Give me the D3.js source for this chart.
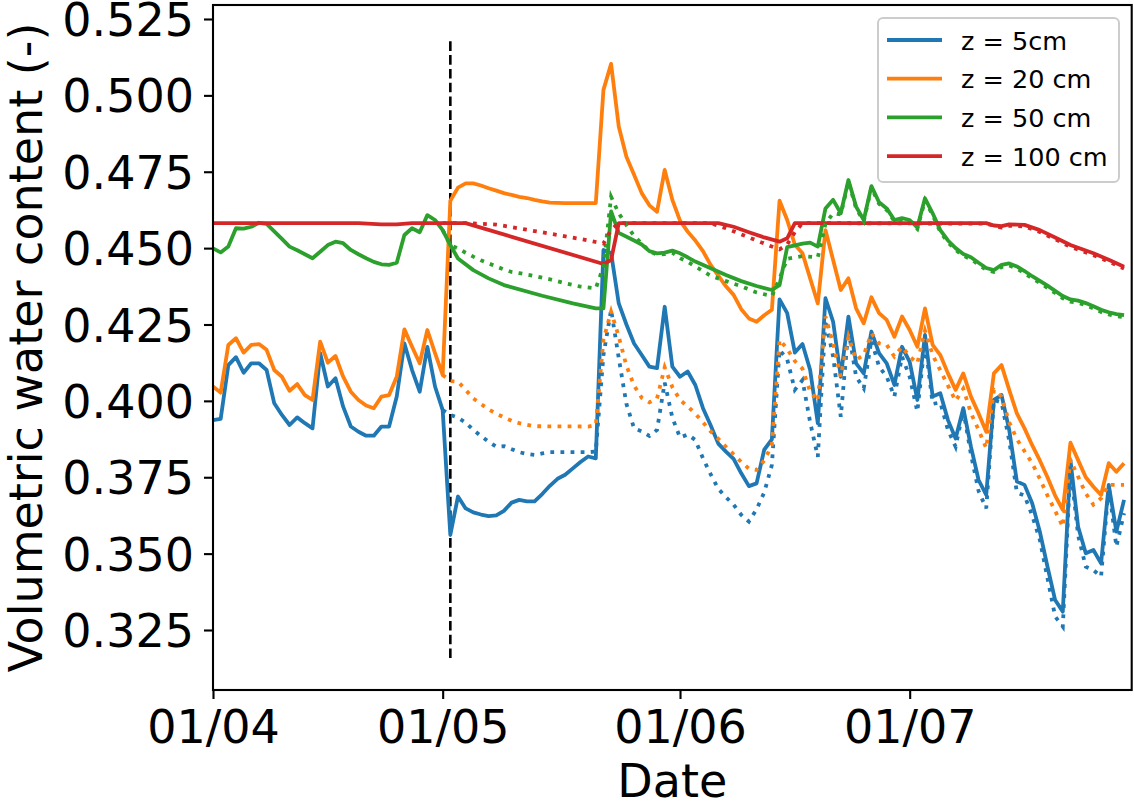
<!DOCTYPE html>
<html>
<head>
<meta charset="utf-8">
<script src="https://cdn.jsdelivr.net/npm/d3@7"></script>
<style>
	body { margin: 0; background: #fff; }
	svg { font-family: 'DejaVu Sans', sans-serif; }
</style>
</head>
<body>
<svg id="chart" width="1134" height="805"></svg>
<script>
// day offsets are counted from 1 April
const START = new Date(2021, 3, 1);
const END_DAY = 120;
const EVENT_DAY = 31;
const EVENT_RANGE = [0.3158, 0.5191];

const labels = ['z = 5cm', 'z = 20 cm', 'z = 50 cm', 'z = 100 cm'];
const colors = ['#1f77b4', '#ff7f0e', '#2ca02c', '#d62728'];
const yTicks = [0.325, 0.35, 0.375, 0.4, 0.425, 0.45, 0.475, 0.5, 0.525];

// observed (solid), [day, value]
const obs5 = [[0,.3937],[1,.3941],[2,.4117],[3,.4143],[4,.4092],[5,.4123],[6,.4123],[7,.4101],[8,.3992],[9,.3954],[10,.3921],[11,.3946],[12,.3927],[13,.3910],[14,.4156],[15,.4047],[16,.4074],[17,.3981],[18,.3916],[19,.3899],[20,.3886],[21,.3886],[22,.3916],[23,.3916],[24,.4014],[25,.4188],[26,.4101],[27,.4030],[28,.4177],[29,.4047],[30,.3970],[31,.3561],[32,.3687],[33,.3648],[34,.3635],[35,.3628],[36,.3623],[37,.3625],[38,.3640],[39,.3667],[40,.3676],[41,.3671],[42,.3671],[43,.3695],[44,.3722],[45,.3745],[46,.3758],[47,.3779],[48,.3800],[49,.3818],[50,.3812],[51,.4494],[52,.4484],[53,.4319],[54,.4250],[55,.4188],[56,.4150],[57,.4112],[58,.4107],[59,.4308],[60,.4112],[61,.4079],[62,.4096],[63,.4052],[64,.3976],[65,.3920],[66,.3860],[67,.3834],[68,.3810],[69,.3763],[70,.3721],[71,.3730],[72,.3840],[73,.3874],[74,.4332],[75,.4287],[76,.4158],[77,.4186],[78,.4101],[79,.3927],[80,.4336],[81,.4259],[82,.4079],[83,.4276],[84,.4123],[85,.4090],[86,.4227],[87,.4156],[88,.4123],[89,.4052],[90,.4177],[91,.4128],[92,.4003],[93,.4216],[94,.4014],[95,.4025],[96,.3937],[97,.3877],[98,.3976],[99,.3850],[100,.3741],[101,.3692],[102,.4003],[103,.4019],[104,.3905],[105,.3736],[106,.3725],[107,.3665],[108,.3572],[109,.3457],[110,.3348],[111,.3310],[112,.3806],[113,.3588],[114,.3501],[115,.3512],[116,.3468],[117,.3725],[118,.3572],[119,.3676]];
const obs20 = [[0,.4047],[1,.4027],[2,.4183],[3,.4205],[4,.4158],[5,.4183],[6,.4186],[7,.4167],[8,.4101],[9,.4079],[10,.4033],[11,.4055],[12,.4019],[13,.4003],[14,.4194],[15,.4125],[16,.4147],[17,.4079],[18,.4030],[19,.4003],[20,.3985],[21,.3976],[22,.4014],[23,.4019],[24,.4079],[25,.4234],[26,.4177],[27,.4123],[28,.4232],[29,.4156],[30,.4085],[31,.4655],[32,.4698],[33,.4712],[34,.4712],[35,.4705],[36,.4696],[37,.4688],[38,.4680],[39,.4674],[40,.4668],[41,.4664],[42,.4658],[43,.4653],[44,.4649],[46,.4647],[50,.4647],[51,.5018],[52,.5103],[53,.4898],[54,.4799],[55,.4740],[56,.4680],[57,.4640],[58,.4619],[59,.4756],[60,.4658],[61,.4590],[62,.4554],[63,.4525],[64,.4490],[65,.4445],[66,.4410],[67,.4375],[68,.4347],[69,.4300],[70,.4270],[71,.4259],[72,.4280],[73,.4298],[74,.4655],[75,.4592],[76,.4511],[77,.4483],[78,.4401],[79,.4319],[80,.4559],[81,.4461],[82,.4363],[83,.4401],[84,.4303],[85,.4254],[86,.4339],[87,.4287],[88,.4265],[89,.4210],[90,.4276],[91,.4232],[92,.4177],[93,.4303],[94,.4183],[95,.4150],[96,.4090],[97,.4036],[98,.4090],[99,.4014],[100,.3959],[101,.3899],[102,.4090],[103,.4117],[104,.4036],[105,.3959],[106,.3910],[107,.3855],[108,.3805],[109,.3750],[110,.3690],[111,.3643],[112,.3863],[113,.3806],[114,.3750],[115,.3719],[116,.3692],[117,.3796],[118,.3768],[119,.3796]];
const obs50 = [[0,.4499],[1,.4486],[2,.4505],[3,.4565],[4,.4564],[5,.4570],[6,.4583],[7,.4579],[8,.4555],[9,.4530],[10,.4505],[11,.4493],[12,.4480],[13,.4467],[14,.4488],[15,.4510],[16,.4521],[17,.4516],[18,.4494],[19,.4480],[20,.4467],[21,.4455],[22,.4447],[23,.4445],[24,.4452],[25,.4543],[26,.4565],[27,.4552],[28,.4608],[29,.4592],[30,.4559],[31,.4510],[32,.4466],[34,.4428],[36,.4401],[38,.4379],[43,.4344],[47,.4319],[50,.4303],[51,.4303],[52,.4620],[53,.4550],[55,.4525],[56,.4512],[57,.4490],[58,.4483],[59,.4485],[60,.4492],[61,.4483],[62,.4470],[63,.4456],[65,.4434],[67,.4412],[69,.4392],[71,.4376],[73,.4363],[74,.4379],[75,.4503],[77,.4515],[78,.4518],[79,.4505],[80,.4630],[81,.4658],[82,.4614],[83,.4723],[84,.4636],[85,.4592],[86,.4703],[87,.4650],[88,.4630],[89,.4592],[90,.4598],[91,.4592],[92,.4568],[93,.4663],[94,.4614],[95,.4559],[96,.4525],[97,.4500],[98,.4481],[99,.4470],[100,.4452],[101,.4435],[102,.4428],[103,.4445],[104,.4450],[105,.4440],[106,.4425],[107,.4408],[108,.4393],[109,.4377],[110,.4360],[111,.4343],[112,.4332],[113,.4328],[114,.4320],[115,.4310],[116,.4298],[117,.4290],[118,.4284],[119,.4281]];
const obs100 = [[0,.4582],[19,.4582],[22,.4578],[24,.4578],[26,.4582],[33,.4582],[51,.4448],[52,.4461],[53,.4582],[66,.4582],[68,.4570],[70,.4552],[72,.4535],[74,.4521],[75,.4532],[76,.4582],[101,.4582],[102,.4574],[103,.4572],[104,.4578],[106,.4576],[108,.4559],[110,.4535],[112,.4510],[115,.4483],[117,.4462],[119,.4439]];

// simulated (dotted), [day, value]
const sim5 = [[30,.3970],[31,.3954],[32,.3945],[33,.3929],[34,.3905],[35,.3885],[36,.3866],[37,.3850],[38,.3852],[39,.3842],[40,.3832],[41,.3826],[42,.3823],[43,.3828],[44,.3832],[49,.3832],[50,.3834],[51,.4150],[52,.4298],[53,.4140],[54,.3990],[55,.3910],[56,.3900],[57,.3885],[58,.3905],[59,.4060],[60,.3945],[61,.3880],[62,.3890],[63,.3872],[64,.3812],[65,.3760],[66,.3712],[67,.3685],[68,.3660],[69,.3627],[70,.3605],[71,.3645],[72,.3700],[73,.3790],[74,.4167],[75,.4136],[76,.4036],[77,.4068],[78,.3930],[79,.3817],[80,.4265],[81,.4145],[82,.3948],[83,.4232],[84,.4079],[85,.4041],[86,.4199],[87,.4112],[88,.4079],[89,.4014],[90,.4145],[91,.4079],[92,.3965],[93,.4195],[94,.3990],[95,.3995],[96,.3905],[97,.3850],[98,.3970],[99,.3825],[100,.3705],[101,.3648],[102,.4003],[103,.3995],[104,.3870],[105,.3700],[106,.3690],[107,.3625],[108,.3545],[109,.3420],[110,.3294],[111,.3261],[112,.3785],[113,.3560],[114,.3457],[115,.3446],[116,.3425],[117,.3719],[118,.3523],[119,.3632]];
const sim20 = [[30,.4085],[31,.4065],[32,.4063],[33,.4036],[34,.4008],[35,.3990],[36,.3972],[37,.3958],[38,.3946],[39,.3935],[40,.3927],[41,.3922],[42,.3917],[49,.3916],[50,.3921],[51,.4200],[52,.4292],[53,.4210],[54,.4115],[55,.4050],[56,.4010],[57,.3995],[58,.4008],[59,.4110],[60,.4045],[61,.4003],[62,.3982],[63,.3958],[64,.3930],[65,.3900],[66,.3876],[67,.3850],[68,.3825],[69,.3800],[70,.3778],[71,.3774],[72,.3805],[73,.3855],[74,.4200],[75,.4170],[76,.4130],[77,.4105],[78,.4030],[79,.4000],[80,.4276],[81,.4188],[82,.4079],[83,.4210],[84,.4134],[85,.4150],[86,.4221],[87,.4188],[88,.4183],[89,.4145],[90,.4177],[91,.4145],[92,.4123],[93,.4230],[94,.4150],[95,.4100],[96,.4050],[97,.4000],[98,.4040],[99,.3960],[100,.3905],[101,.3845],[102,.4036],[103,.4014],[104,.3930],[105,.3875],[106,.3835],[107,.3796],[108,.3745],[109,.3690],[110,.3640],[111,.3588],[112,.3806],[113,.3752],[114,.3697],[115,.3660],[116,.3681],[117,.3725],[118,.3725],[119,.3725]];
const sim50 = [[30,.4559],[31,.4510],[32,.4499],[33,.4485],[34,.4472],[35,.4460],[36,.4450],[37,.4440],[38,.4430],[39,.4422],[40,.4418],[42,.4409],[44,.4398],[46,.4385],[48,.4374],[50,.4368],[51,.4440],[52,.4668],[53,.4614],[54,.4575],[55,.4540],[56,.4515],[57,.4490],[58,.4478],[59,.4480],[60,.4485],[61,.4467],[62,.4455],[63,.4440],[65,.4410],[67,.4392],[69,.4375],[71,.4355],[73,.4343],[74,.4400],[75,.4465],[77,.4474],[79,.4470],[80,.4580],[81,.4614],[82,.4610],[83,.4718],[84,.4630],[85,.4588],[86,.4698],[87,.4645],[88,.4625],[89,.4588],[90,.4593],[91,.4587],[92,.4563],[93,.4657],[94,.4608],[95,.4553],[96,.4519],[97,.4494],[98,.4475],[99,.4464],[100,.4446],[101,.4429],[102,.4422],[103,.4438],[104,.4443],[105,.4433],[106,.4418],[107,.4401],[108,.4386],[109,.4370],[110,.4353],[111,.4336],[112,.4325],[113,.4321],[114,.4313],[115,.4303],[116,.4291],[117,.4283],[118,.4277],[119,.4274]];
const sim100 = [[30,.4582],[33,.4582],[37,.4577],[42,.4556],[48,.4530],[50,.4520],[51,.4515],[52,.4560],[53,.4582],[65,.4582],[67,.4565],[69,.4545],[71,.4525],[73,.4505],[74,.4496],[75,.4512],[76,.4552],[77,.4582],[101,.4580],[103,.4567],[104,.4573],[106,.4571],[108,.4553],[110,.4529],[112,.4504],[115,.4477],[117,.4456],[119,.4433]];

const observed = [obs5, obs20, obs50, obs100];
const simulated = [sim5, sim20, sim50, sim100];

const M = { top: 5, right: 1131.7, bottom: 690, left: 213 };
const FS_TICK = 46;
const FS_LEGEND = 25.5;
const LW = 3.8;

const svg = d3.select('#chart');
const day = d => d3.timeDay.offset(START, d);

const x = d3.scaleTime().domain([START, day(END_DAY)]).range([M.left, M.right]);
const y = d3.scaleLinear().domain([0.30536, 0.52958]).range([M.bottom, M.top]);

const line = d3.line()
	.x(d => x(day(d[0])))
	.y(d => y(d[1]));

const plot = svg.append('g');

// event marker
plot.append('line')
	.attr('x1', x(day(EVENT_DAY))).attr('x2', x(day(EVENT_DAY)))
	.attr('y1', y(EVENT_RANGE[0])).attr('y2', y(EVENT_RANGE[1]))
	.attr('stroke', '#000').attr('stroke-width', 2.6)
	.attr('stroke-dasharray', '9.6,4.2');

observed.forEach((s, i) => {
	plot.append('path')
		.attr('d', line(s))
		.attr('fill', 'none')
		.attr('stroke', colors[i])
		.attr('stroke-width', LW)
		.attr('stroke-linejoin', 'round');
});

simulated.forEach((s, i) => {
	plot.append('path')
		.attr('d', line(s))
		.attr('fill', 'none')
		.attr('stroke', colors[i])
		.attr('stroke-width', LW)
		.attr('stroke-dasharray', '3.8,6.3');
});

// axes
const xAxis = d3.axisBottom(x)
	.tickValues(d3.timeMonth.range(START, day(END_DAY)))
	.tickFormat(d3.timeFormat('%d/%m'))
	.tickSize(9)
	.tickPadding(11);

const yAxis = d3.axisLeft(y)
	.tickValues(yTicks)
	.tickFormat(d3.format('.3f'))
	.tickSize(9)
	.tickPadding(10);

const gx = svg.append('g')
	.attr('transform', `translate(0,${M.bottom})`)
	.call(xAxis);
const gy = svg.append('g')
	.attr('transform', `translate(${M.left},0)`)
	.call(yAxis);

[gx, gy].forEach(g => {
	g.attr('font-family', null).attr('font-size', null);
	g.select('.domain').remove();
	g.selectAll('.tick line').attr('stroke', '#000').attr('stroke-width', 2.1);
	g.selectAll('.tick text').attr('fill', '#000').style('font-size', FS_TICK + 'px');
});
gy.selectAll('.tick text').attr('dy', '0.36em');

svg.append('rect')
	.attr('x', M.left).attr('y', M.top)
	.attr('width', M.right - M.left).attr('height', M.bottom - M.top)
	.attr('fill', 'none').attr('stroke', '#000').attr('stroke-width', 2.1);

svg.append('text')
	.attr('x', (M.left + M.right) / 2).attr('y', 797)
	.attr('text-anchor', 'middle')
	.style('font-size', FS_TICK + 'px')
	.text('Date');

svg.append('text')
	.attr('transform', `translate(42,${(M.top + M.bottom) / 2}) rotate(-90)`)
	.attr('text-anchor', 'middle')
	.style('font-size', FS_TICK + 'px')
	.text('Volumetric water content (-)');

// legend
const legend = svg.append('g').attr('transform', 'translate(878,18)');
legend.append('rect')
	.attr('width', 241).attr('height', 164).attr('rx', 5)
	.attr('fill', '#fff').attr('fill-opacity', 0.8)
	.attr('stroke', '#cccccc').attr('stroke-width', 2);

labels.forEach((t, i) => {
	const ly = 22 + i * 38.7;
	legend.append('line')
		.attr('x1', 9).attr('x2', 64).attr('y1', ly).attr('y2', ly)
		.attr('stroke', colors[i]).attr('stroke-width', LW);
	legend.append('text')
		.attr('x', 83).attr('y', ly + 9.5)
		.style('font-size', FS_LEGEND + 'px')
		.text(t);
});
</script>
</body>
</html>
